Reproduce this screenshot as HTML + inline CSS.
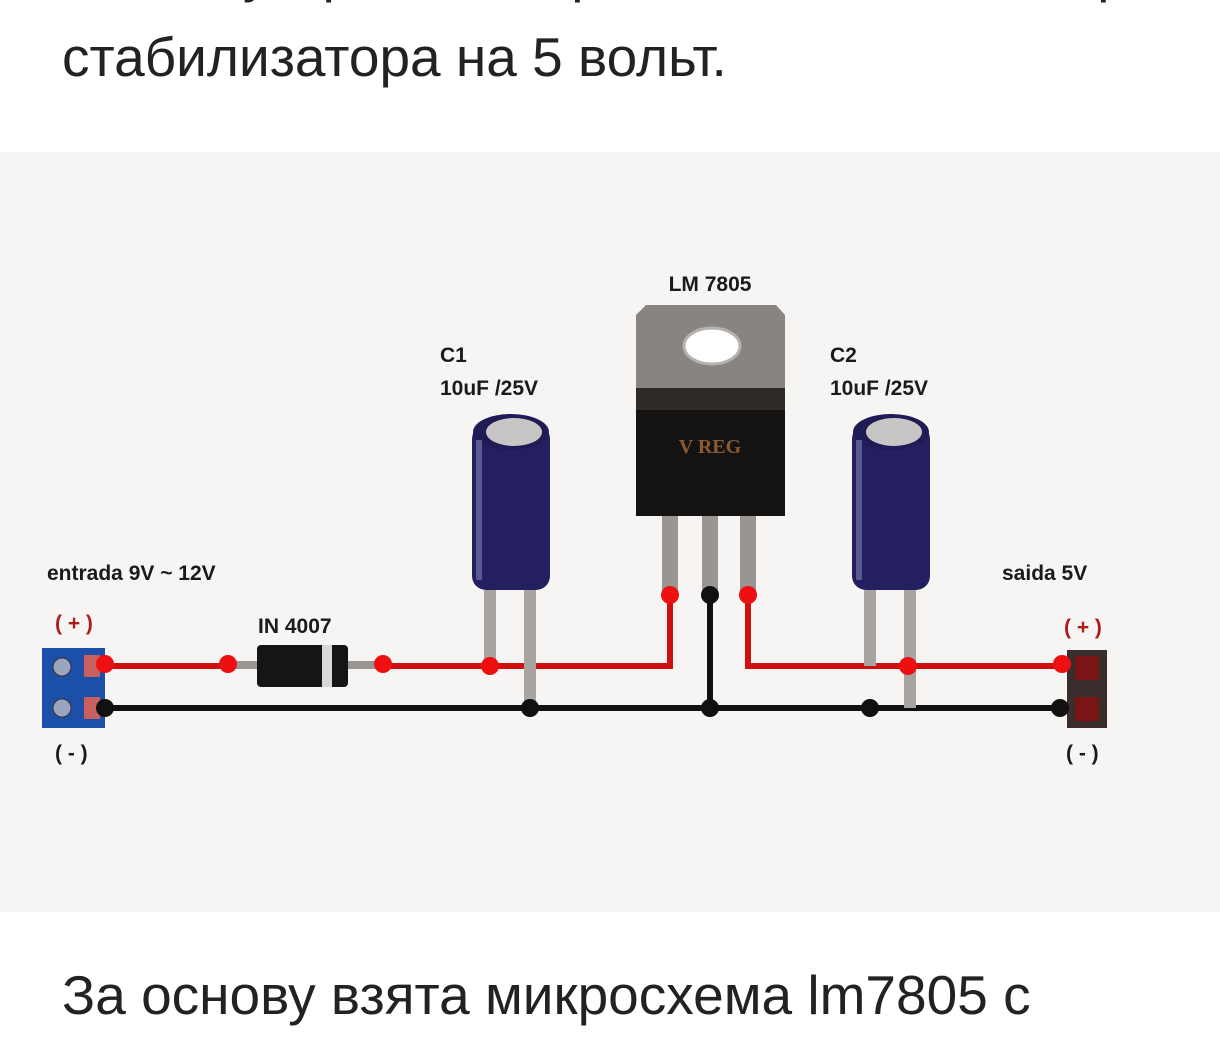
<!DOCTYPE html>
<html><head><meta charset="utf-8"><style>
html,body{margin:0;padding:0;background:#fff;width:1220px;height:1048px;overflow:hidden}
.t{position:absolute;left:62px;font-family:"Liberation Sans","Noto Sans CJK SC",sans-serif;font-size:55px;line-height:55px;color:#222;white-space:nowrap}
</style></head><body>
<div class="t" style="top:-55px">Схема устройства простого стабилизатора</div>
<div class="t" style="top:30px">стабилизатора на 5 вольт.</div>
<svg style="position:absolute;left:0;top:0" width="1220" height="1048" font-family="Liberation Sans, sans-serif" font-weight="bold">
<rect x="0" y="152" width="1220" height="760" fill="#f6f5f3"/>
<polyline points="95,666 670,666 670,595" fill="none" stroke="#d01010" stroke-width="6"/>
<polyline points="748,595 748,666 1085,666" fill="none" stroke="#d01010" stroke-width="6"/>
<line x1="95" y1="708" x2="1085" y2="708" stroke="#111" stroke-width="6"/>
<line x1="710" y1="590" x2="710" y2="708" stroke="#111" stroke-width="6"/>
<polygon points="646,305 776,305 785,315 785,388 636,388 636,315" fill="#8a8480"/>
<ellipse cx="712" cy="346" rx="28" ry="18" fill="#fff" stroke="#b8b2ae" stroke-width="3"/>
<rect x="636" y="388" width="149" height="128" fill="#141312"/>
<rect x="636" y="388" width="149" height="22" fill="#2e2b28"/>
<text x="710" y="453" font-size="20" fill="#8a5a32" text-anchor="middle" font-family="Liberation Serif, serif">V REG</text>
<rect x="662" y="516" width="16" height="76" fill="#9a9592"/>
<rect x="702" y="516" width="16" height="76" fill="#9a9592"/>
<rect x="740" y="516" width="16" height="76" fill="#9a9592"/>
<g id="c">
<rect x="484" y="590" width="12" height="76" fill="#a8a4a2"/>
<rect x="524" y="590" width="12" height="118" fill="#a8a4a2"/>
<rect x="472" y="425" width="78" height="165" rx="14" fill="#242060"/>
<ellipse cx="511" cy="432" rx="38" ry="18" fill="#1f1b55"/>
<ellipse cx="514" cy="432" rx="28" ry="14" fill="#c8c6c4"/>
<rect x="476" y="440" width="6" height="140" fill="#5a5890"/>
</g>
<use href="#c" x="380"/>
<rect x="228" y="661" width="160" height="8" fill="#9a9592"/>
<rect x="257" y="645" width="91" height="42" rx="4" fill="#151515"/>
<rect x="322" y="645" width="10" height="42" fill="#d8d8d8"/>
<rect x="42" y="648" width="63" height="80" fill="#1c4fa8"/>
<circle cx="62" cy="667" r="9" fill="#9aa6c0" stroke="#333" stroke-width="1"/>
<circle cx="62" cy="708" r="9" fill="#9aa6c0" stroke="#333" stroke-width="1"/>
<rect x="84" y="655" width="16" height="22" fill="#c86060"/>
<rect x="84" y="697" width="16" height="22" fill="#c86060"/>
<rect x="1067" y="650" width="40" height="78" fill="#3a2e2c"/>
<rect x="1075" y="656" width="24" height="24" fill="#7a1515"/>
<rect x="1075" y="697" width="24" height="24" fill="#7a1515"/>
<g fill="#ee1010">
<circle cx="105" cy="664" r="9"/><circle cx="228" cy="664" r="9"/><circle cx="383" cy="664" r="9"/>
<circle cx="490" cy="666" r="9"/><circle cx="670" cy="595" r="9"/><circle cx="748" cy="595" r="9"/>
<circle cx="908" cy="666" r="9"/><circle cx="1062" cy="664" r="9"/></g>
<g fill="#111">
<circle cx="105" cy="708" r="9"/><circle cx="530" cy="708" r="9"/><circle cx="710" cy="595" r="9"/>
<circle cx="710" cy="708" r="9"/><circle cx="870" cy="708" r="9"/><circle cx="1060" cy="708" r="9"/></g>
<g font-size="21" fill="#1a1a1a">
<text x="710" y="291" text-anchor="middle">LM 7805</text>
<text x="440" y="362">C1</text><text x="440" y="395">10uF /25V</text>
<text x="830" y="362">C2</text><text x="830" y="395">10uF /25V</text>
<text x="47" y="580">entrada 9V ~ 12V</text>
<text x="258" y="633">IN 4007</text>
<text x="1002" y="580">saida 5V</text>
<text x="55" y="760">( - )</text><text x="1066" y="760">( - )</text>
</g>
<g font-size="21" fill="#b01a1a"><text x="55" y="630">( + )</text><text x="1064" y="634">( + )</text></g>
</svg>
<div class="t" style="top:968px">За основу взята микросхема lm7805 с</div>
</body></html>
